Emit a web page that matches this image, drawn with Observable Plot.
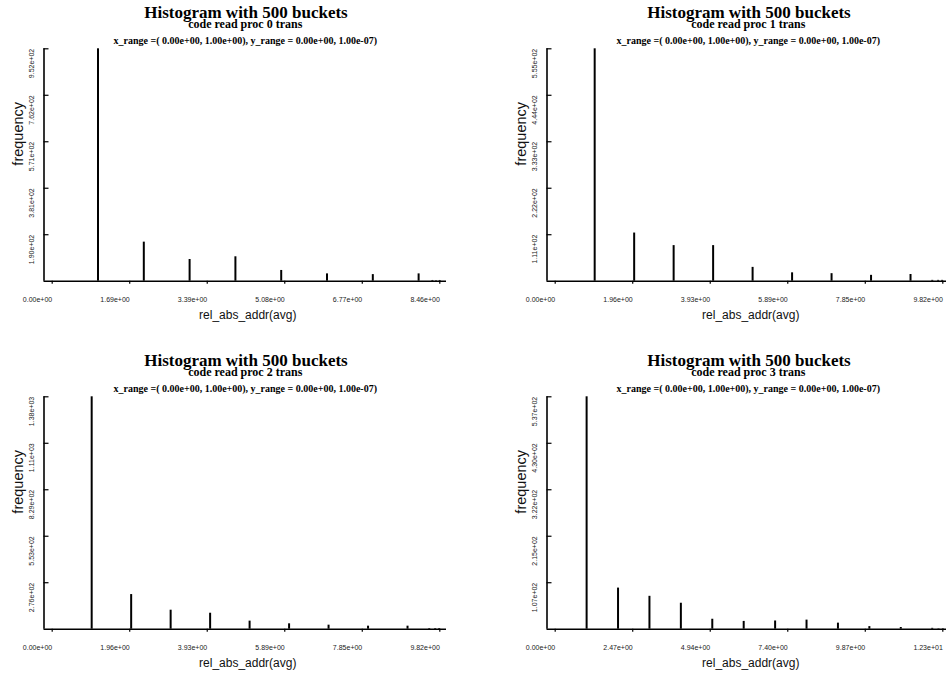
<!DOCTYPE html>
<html><head><meta charset="utf-8">
<script src="https://cdn.jsdelivr.net/npm/d3@7"></script>
<script src="https://cdn.jsdelivr.net/npm/@observablehq/plot@0.6"></script>
<style>
html,body{margin:0;padding:0;background:#fff;overflow:hidden;}
#root{position:relative;width:946px;height:673px;overflow:hidden;background:#fff;}
.panel{position:absolute;width:473px;height:336px;}
.panel svg{max-width:none !important;}
</style></head><body><div id="root"></div>
<script>
// ---- data ----
const titleText = "Histogram with 500 buckets";
const subtitles = ["code read proc 0 trans", "code read proc 1 trans", "code read proc 2 trans", "code read proc 3 trans"];
const rangeText = "x_range =( 0.00e+00, 1.00e+00), y_range = 0.00e+00, 1.00e-07)";
const xLabelText = "rel_abs_addr(avg)";
const yLabelText = "frequency";

const x0 = [1, 2, 3, 4, 5, 6, 7, 8, 8.3, 8.38, 8.46];
const f0 = [952, 160, 89, 100, 44, 30, 27, 30, 3, 2, 3];
const x1 = [1, 2, 3, 4, 5, 6, 7, 8, 9, 9.55, 9.7, 9.8];
const f1 = [555, 115, 85, 85, 33, 20, 18, 14, 16, 2, 2, 2];
const x2 = [1, 2, 3, 4, 5, 6, 7, 8, 9, 9.55, 9.7, 9.8];
const f2 = [1382, 206, 113, 95, 48, 32, 24, 18, 18, 4, 4, 4];
const x3 = [1, 2, 3, 4, 5, 6, 7, 8, 9, 10, 11, 12, 12.2, 12.34];
const f3 = [537, 95, 76, 60, 23, 18, 19, 21, 14, 6, 4, 2, 1, 1];

const xTicks0 = [0, 1.6925, 3.385, 5.0775, 6.77, 8.4625];
const xLabels0 = ["0.00e+00", "1.69e+00", "3.39e+00", "5.08e+00", "6.77e+00", "8.46e+00"];
const xTicks1 = [0, 1.9635, 3.927, 5.8905, 7.854, 9.8175];
const xLabels1 = ["0.00e+00", "1.96e+00", "3.93e+00", "5.89e+00", "7.85e+00", "9.82e+00"];
const xTicks2 = [0, 1.9635, 3.927, 5.8905, 7.854, 9.8175];
const xLabels2 = ["0.00e+00", "1.96e+00", "3.93e+00", "5.89e+00", "7.85e+00", "9.82e+00"];
const xTicks3 = [0, 2.4675, 4.935, 7.4025, 9.87, 12.3375];
const xLabels3 = ["0.00e+00", "2.47e+00", "4.94e+00", "7.40e+00", "9.87e+00", "1.23e+01"];

const yTicks0 = [190.4, 380.8, 571.2, 761.6, 952];
const yLabels0 = ["1.90e+02", "3.81e+02", "5.71e+02", "7.62e+02", "9.52e+02"];
const yTicks1 = [111, 222, 333, 444, 555];
const yLabels1 = ["1.11e+02", "2.22e+02", "3.33e+02", "4.44e+02", "5.55e+02"];
const yTicks2 = [276.4, 552.8, 829.2, 1105.6, 1382];
const yLabels2 = ["2.76e+02", "5.53e+02", "8.29e+02", "1.11e+03", "1.38e+03"];
const yTicks3 = [107.4, 214.8, 322.2, 429.6, 537];
const yLabels3 = ["1.07e+02", "2.15e+02", "3.22e+02", "4.30e+02", "5.37e+02"];

// ---- layout ----
const panels = [
  {xs: x0, fs: f0, xt: xTicks0, xl: xLabels0, yt: yTicks0, yl: yLabels0, sub: subtitles[0], left: 0, top: 0},
  {xs: x1, fs: f1, xt: xTicks1, xl: xLabels1, yt: yTicks1, yl: yLabels1, sub: subtitles[1], left: 503, top: 0},
  {xs: x2, fs: f2, xt: xTicks2, xl: xLabels2, yt: yTicks2, yl: yLabels2, sub: subtitles[2], left: 0, top: 348.3},
  {xs: x3, fs: f3, xt: xTicks3, xl: xLabels3, yt: yTicks3, yl: yLabels3, sub: subtitles[3], left: 503, top: 348.3}
];

const W = 473, H = 336, ML = 43.5, MR = 27, MT = 48.3, MB = 55.3, INSET_L = 8.2, INSET_R = 6.7;
const FW = W - ML - MR;
const SANS = "'Liberation Sans', Arial, Helvetica, sans-serif";
const SERIF = "'Liberation Serif', 'Times New Roman', serif";
const root = document.getElementById("root");

panels.forEach(p => {
  const data = p.xs.map((x, i) => ({x, f: p.fs[i]}));
  const yMax = p.yt[p.yt.length - 1];
  const chart = Plot.plot({
    width: W, height: H,
    marginLeft: ML, marginRight: MR, marginTop: MT, marginBottom: MB,
    x: {domain: [0, p.xt[p.xt.length - 1]], insetLeft: INSET_L, insetRight: INSET_R, axis: null},
    y: {domain: [0, yMax], axis: null},
    style: {background: "transparent", color: "#000", maxWidth: "none"},
    marks: [
      Plot.ruleY([0], {stroke: "#000", strokeWidth: 1.5}),
      // left axis line: spans 0..max of y, shifted left by the scale inset
      Plot.ruleX([0], {x: d => d, y1: 0, y2: yMax, dx: -INSET_L, stroke: "#000", strokeWidth: 1.6}),
      Plot.tickY(p.yt, {y: d => d, stroke: "#000", strokeWidth: 1.2, insetRight: FW - 5}),
      Plot.text(p.yt, {y: d => d, text: (d, i) => p.yl[i], frameAnchor: "left", rotate: -90,
        textAnchor: "end", dx: -12, fontSize: 7, fontFamily: SANS, fill: "#222"}),
      Plot.axisX(p.xt, {label: null, tickSize: 3, tickPadding: 12.5, textAnchor: "end",
        tickFormat: d => p.xl[p.xt.indexOf(d)], fontSize: 7, fontFamily: SANS, stroke: "#000", strokeWidth: 1.2, fill: "#222"}),
      Plot.ruleX(data, {x: "x", y1: 0, y2: "f", stroke: "#000", strokeWidth: 2}),
      Plot.text([xLabelText], {frameAnchor: "bottom", lineAnchor: "bottom", textAnchor: "middle", dx: 2.5, dy: 37.8,
        fontSize: 12, fontFamily: SANS, fill: "#111"}),
      Plot.text([yLabelText], {frameAnchor: "left", rotate: -90, lineAnchor: "bottom", textAnchor: "middle", dx: -21.5, dy: -31.2,
        fontSize: 14.5, fontFamily: SANS, fill: "#111"}),
      Plot.text([titleText], {frameAnchor: "top", lineAnchor: "bottom", textAnchor: "middle", dx: 0.7, dy: -30.5,
        fontSize: 17, fontWeight: "bold", fontFamily: SERIF, fill: "#000"}),
      Plot.text([p.sub], {frameAnchor: "top", lineAnchor: "bottom", textAnchor: "middle", dy: -20.8,
        fontSize: 12, fontWeight: "bold", fontFamily: SERIF, fill: "#000"}),
      Plot.text([rangeText], {frameAnchor: "top", lineAnchor: "bottom", textAnchor: "middle", dy: -5.3,
        fontSize: 10, fontWeight: "bold", fontFamily: SERIF, fill: "#000"})
    ]
  });
  const div = document.createElement("div");
  div.className = "panel";
  div.style.left = p.left + "px";
  div.style.top = p.top + "px";
  div.appendChild(chart);
  root.appendChild(div);
});
</script>
</body></html>
